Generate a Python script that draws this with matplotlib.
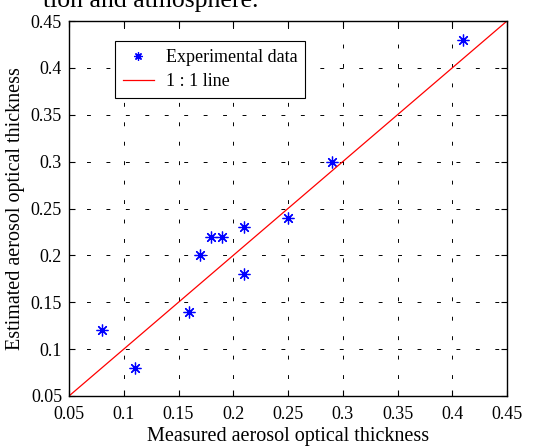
import numpy as np
import matplotlib.pyplot as plt

plt.rcParams['font.family'] = ['Liberation Serif', 'DejaVu Serif']

measured = [0.08, 0.11, 0.16, 0.17, 0.18, 0.19, 0.21, 0.21, 0.25, 0.29, 0.41]
estimated = [0.12, 0.08, 0.14, 0.20, 0.22, 0.22, 0.23, 0.18, 0.24, 0.30, 0.43]
ticks = [0.05, 0.1, 0.15, 0.2, 0.25, 0.3, 0.35, 0.4, 0.45]
tick_labels = ['0.05', '0.1', '0.15', '0.2', '0.25', '0.3', '0.35', '0.4', '0.45']
one_to_one = [0.05, 0.45]

fig = plt.figure(figsize=(5.41, 4.46), dpi=100)
ax = fig.add_axes([69/541, 1 - 396/446, 438/541, 375/446])

# asterisk markers, 8 arms
ax.plot(measured, estimated, linestyle='none', marker=(8, 2, 0), color='blue',
        markersize=8.5, markeredgewidth=0.9, label='Experimental data')
ax.plot(one_to_one, one_to_one, color='red', linewidth=0.9, label='1 : 1 line')

ax.set_xlim(0.05, 0.45)
ax.set_ylim(0.05, 0.45)
ax.set_xticks(ticks)
ax.set_xticklabels(tick_labels)
ax.set_yticks(ticks)
ax.set_yticklabels(tick_labels)
ax.tick_params(direction='in', top=True, right=True, labelsize=13, length=4)
ax.tick_params(axis='x', pad=7)
ax.tick_params(axis='y', pad=5)
ax.grid(True, color='black', linestyle=(2, (4, 16)), linewidth=0.7)
for s in ax.spines.values():
    s.set_linewidth(1.0)

ax.set_xlabel('Measured aerosol optical thickness', fontsize=14.5, labelpad=3)
ax.set_ylabel('Estimated aerosol optical thickness', fontsize=14.5, labelpad=4)

leg = ax.legend(loc='upper left', bbox_to_anchor=(0.105, 0.947), borderaxespad=0,
                fontsize=13, fancybox=False, framealpha=1, edgecolor='black',
                handlelength=1.7, handletextpad=0.65, borderpad=0.45,
                labelspacing=0.4, markerscale=0.7)
leg.get_frame().set_linewidth(0.8)

fig.text(43/541, 1 - 7/446, 'tion and atmosphere.', fontsize=18.5, va='baseline')

fig.savefig('out.png', dpi=100)
